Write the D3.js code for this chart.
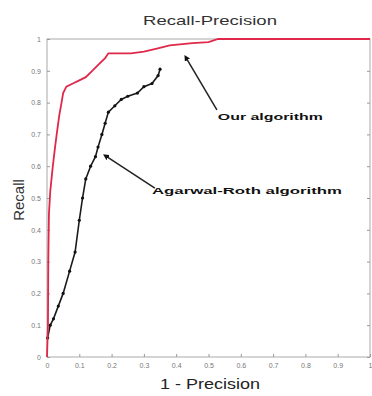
<!DOCTYPE html>
<html>
<head>
<meta charset="utf-8">
<script src="https://cdn.jsdelivr.net/npm/d3@7"></script>
<style>
  body { margin: 0; background: #fff; }
  svg { font-family: "Liberation Sans", Arial, sans-serif; }
</style>
</head>
<body>
<div id="chart"></div>
<script>
// our algorithm (red) : [1 - precision, recall]
const oursCurve = [
  [0, 0], [0.003, 0.1], [0.004, 0.3], [0.006, 0.45], [0.01, 0.52], [0.018, 0.6],
  [0.025, 0.66], [0.03, 0.7], [0.038, 0.76], [0.045, 0.8], [0.05, 0.83], [0.06, 0.85],
  [0.08, 0.86], [0.1, 0.87], [0.12, 0.88], [0.14, 0.9], [0.16, 0.92], [0.18, 0.94],
  [0.19, 0.955], [0.22, 0.955], [0.26, 0.955], [0.3, 0.96], [0.34, 0.97], [0.38, 0.98],
  [0.45, 0.987], [0.5, 0.99], [0.53, 1], [1, 1]
];

// Agarwal-Roth (black)
const agarwalCurve = [
  [0.002, 0.06], [0.01, 0.1], [0.02, 0.12], [0.035, 0.16], [0.05, 0.2], [0.07, 0.27],
  [0.087, 0.33], [0.1, 0.43], [0.11, 0.5], [0.12, 0.56], [0.135, 0.6], [0.15, 0.63],
  [0.158, 0.66], [0.17, 0.7], [0.18, 0.735], [0.19, 0.77], [0.21, 0.79], [0.23, 0.81],
  [0.25, 0.82], [0.28, 0.83], [0.3, 0.85], [0.325, 0.86], [0.344, 0.885], [0.35, 0.905]
];

const xTicks = [0, 0.1, 0.2, 0.3, 0.4, 0.5, 0.6, 0.7, 0.8, 0.9, 1];
const yTicks = [0, 0.1, 0.2, 0.3, 0.4, 0.5, 0.6, 0.7, 0.8, 0.9, 1];

const notes = [
  { text: 'Our algorithm', tip: [0.433, 0.937], tail: [0.526, 0.777], at: [0.529, 0.745], len: 105 },
  { text: 'Agarwal-Roth algorithm', tip: [0.186, 0.629], tail: [0.334, 0.531], at: [0.325, 0.513], len: 190 }
];

const W = 372, H = 396;
const margin = { top: 39, right: 2, bottom: 39, left: 47 };

const x = d3.scaleLinear().domain([0, 1]).range([margin.left, W - margin.right]);
const y = d3.scaleLinear().domain([0, 1]).range([H - margin.bottom, margin.top]);

const svg = d3.select('#chart').append('svg')
  .attr('width', W)
  .attr('height', H);

svg.append('defs').append('marker')
  .attr('id', 'arrow')
  .attr('viewBox', '0 0 10 10')
  .attr('refX', 2).attr('refY', 5)
  .attr('markerWidth', 4).attr('markerHeight', 4)
  .attr('orient', 'auto-start-reverse')
  .append('path')
  .attr('d', 'M0,0L10,5L0,10z')
  .attr('fill', '#111');

// frame
svg.append('rect')
  .attr('x', x(0)).attr('y', y(1))
  .attr('width', x(1) - x(0)).attr('height', y(0) - y(1))
  .attr('fill', 'none').attr('stroke', '#aaa').attr('stroke-width', 1);

const axisStyle = g => {
  g.select('.domain').remove();
  g.selectAll('.tick line').attr('stroke', '#999');
  g.selectAll('.tick text').attr('fill', '#777').attr('font-size', 7);
};

svg.append('g')
  .attr('transform', `translate(0,${y(0)})`)
  .call(d3.axisBottom(x).tickValues(xTicks).tickFormat(d3.format('')).tickSize(-3).tickPadding(6))
  .call(axisStyle);

svg.append('g')
  .attr('transform', `translate(${x(0)},0)`)
  .call(d3.axisLeft(y).tickValues(yTicks).tickFormat(d3.format('')).tickSize(-3).tickPadding(6))
  .call(axisStyle);

svg.append('g')
  .attr('transform', `translate(${x(1)},0)`)
  .call(d3.axisRight(y).tickValues(yTicks).tickFormat('').tickSize(-3))
  .call(axisStyle);

const line = d3.line().x(d => x(d[0])).y(d => y(d[1]));

svg.append('path')
  .datum(agarwalCurve)
  .attr('d', line)
  .attr('fill', 'none')
  .attr('stroke', '#1a1a1a')
  .attr('stroke-width', 1.6);

svg.selectAll('.dot')
  .data(agarwalCurve)
  .enter().append('circle')
  .attr('cx', d => x(d[0]))
  .attr('cy', d => y(d[1]))
  .attr('r', 1.6)
  .attr('fill', '#111');

svg.append('path')
  .datum(oursCurve)
  .attr('d', line)
  .attr('fill', 'none')
  .attr('stroke', '#e0284a')
  .attr('stroke-width', 1.8);

// annotations
notes.forEach(n => {
  svg.append('line')
    .attr('x1', x(n.tail[0])).attr('y1', y(n.tail[1]))
    .attr('x2', x(n.tip[0])).attr('y2', y(n.tip[1]))
    .attr('stroke', '#222').attr('stroke-width', 1.5)
    .attr('marker-end', 'url(#arrow)');
  svg.append('text')
    .attr('x', x(n.at[0])).attr('y', y(n.at[1]))
    .attr('font-size', 9).attr('font-weight', 'bold').attr('fill', '#111')
    .attr('textLength', n.len).attr('lengthAdjust', 'spacingAndGlyphs')
    .text(n.text);
});

svg.append('text')
  .attr('x', 210).attr('y', 25)
  .attr('text-anchor', 'middle')
  .attr('font-size', 13).attr('fill', '#333')
  .attr('textLength', 134).attr('lengthAdjust', 'spacingAndGlyphs')
  .text('Recall-Precision');

svg.append('text')
  .attr('x', 210).attr('y', 389)
  .attr('text-anchor', 'middle')
  .attr('font-size', 15).attr('fill', '#222')
  .attr('textLength', 100).attr('lengthAdjust', 'spacingAndGlyphs')
  .text('1 - Precision');

svg.append('text')
  .attr('transform', 'translate(24,200) rotate(-90)')
  .attr('text-anchor', 'middle')
  .attr('font-size', 15).attr('fill', '#333')
  .text('Recall');
</script>
</body>
</html>
